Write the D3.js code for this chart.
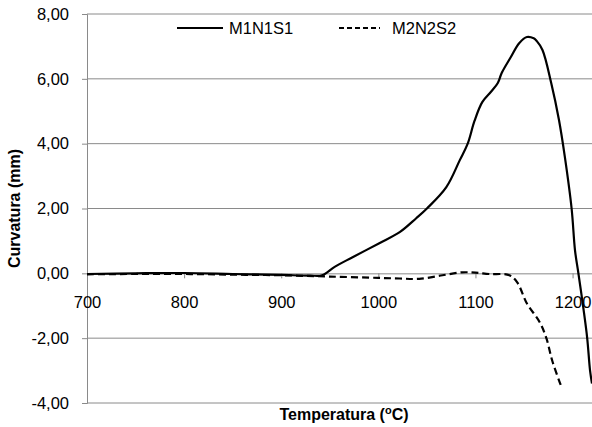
<!DOCTYPE html>
<html>
<head>
<meta charset="utf-8">
<script src="https://cdn.jsdelivr.net/npm/d3@7"></script>
<style>
  body { margin: 0; background: #fff; }
  svg { font-family: "Liberation Sans", Arial, sans-serif; }
</style>
</head>
<body>
<svg width="592" height="427"></svg>
<script>
// series names
const seriesNames = ['M1N1S1', 'M2N2S2'];

// M1N1S1 (solid)
const tempA = [700, 750, 800, 850, 900, 930, 942, 955, 973, 1001, 1022, 1039, 1050, 1070, 1084, 1092, 1099, 1107, 1116, 1123, 1127, 1136, 1145, 1153, 1160, 1163, 1169, 1178, 1186, 1192, 1199, 1202.5, 1206, 1211, 1215, 1218, 1220];
const curvA = [-0.02, 0.0, 0.01, -0.02, -0.05, -0.07, -0.06, 0.2, 0.49, 0.93, 1.27, 1.70, 2.0, 2.66, 3.5, 4.0, 4.7, 5.28, 5.6, 5.87, 6.18, 6.65, 7.1, 7.29, 7.25, 7.17, 6.89, 5.87, 4.73, 3.6, 2.0, 0.71, 0.0, -1.05, -1.98, -3.0, -3.4];

// M2N2S2 (dashed)
const tempB = [700, 750, 800, 850, 900, 950, 1000, 1022, 1042, 1066, 1086, 1100, 1114, 1135, 1143, 1153, 1166, 1173, 1179, 1186, 1188];
const curvB = [-0.03, -0.02, -0.02, -0.04, -0.06, -0.1, -0.14, -0.16, -0.17, -0.06, 0.03, 0.02, -0.02, -0.06, -0.28, -0.93, -1.5, -2.0, -2.69, -3.3, -3.46];

const xTicks = [700, 800, 900, 1000, 1100, 1200];
const yTicks = [-4, -2, 0, 2, 4, 6, 8];

const margin = { top: 14, right: 0, bottom: 24, left: 87 };
const width = 592 - margin.left - margin.right,
  height = 427 - margin.top - margin.bottom;

const fontSize = 16.5;

const svg = d3.select('svg');
const g = svg.append('g')
  .attr('transform', 'translate(' + margin.left + ',' + margin.top + ')');

const x = d3.scaleLinear().domain([700, 1220]).range([0, width]);
const y = d3.scaleLinear().domain([-4, 8]).range([height, 0]);

const gray = '#8a8a8a';

// gridlines
g.append('g')
  .selectAll('line')
  .data(yTicks.filter(d => d !== 0))
  .enter().append('line')
  .attr('x1', 0).attr('x2', width)
  .attr('y1', d => y(d)).attr('y2', d => y(d))
  .attr('stroke', gray).attr('stroke-width', 1);

// y axis
const yAxis = g.append('g')
  .call(d3.axisLeft(y).tickValues(yTicks).tickSize(5).tickPadding(13)
    .tickFormat(d => d3.format('.2f')(d).replace('.', ',').replace('\u2212', '-')));
yAxis.select('.domain').attr('stroke', gray);
yAxis.selectAll('.tick line').attr('stroke', gray);
yAxis.selectAll('text').attr('font-size', fontSize).attr('fill', '#000')
  .attr('font-family', '"Liberation Sans", Arial, sans-serif');

// x axis at y = 0
const xAxis = g.append('g')
  .attr('transform', 'translate(0,' + y(0) + ')')
  .call(d3.axisBottom(x).tickValues(xTicks).tickSize(5).tickPadding(18)
    .tickFormat(d3.format('d')));
xAxis.select('.domain').attr('stroke', gray).attr('d', 'M0.5,0.5H' + width);
xAxis.selectAll('.tick line').attr('stroke', gray);
xAxis.selectAll('text').attr('font-size', fontSize).attr('fill', '#000')
  .attr('font-family', '"Liberation Sans", Arial, sans-serif');

// lines
const line = d3.line()
  .x(d => x(d[0]))
  .y(d => y(d[1]))
  .curve(d3.curveCatmullRom.alpha(0.5));

g.append('path')
  .datum(tempA.map((t, i) => [t, curvA[i]]))
  .attr('fill', 'none')
  .attr('stroke', '#000')
  .attr('stroke-width', 2.2)
  .attr('stroke-linejoin', 'round')
  .attr('d', line);

g.append('path')
  .datum(tempB.map((t, i) => [t, curvB[i]]))
  .attr('fill', 'none')
  .attr('stroke', '#000')
  .attr('stroke-width', 2.2)
  .attr('stroke-dasharray', '7,4')
  .attr('d', line);

// legend
const legend = svg.append('g').attr('font-size', fontSize);
legend.append('line')
  .attr('x1', 177).attr('x2', 223).attr('y1', 28).attr('y2', 28)
  .attr('stroke', '#000').attr('stroke-width', 2.2);
legend.append('text').attr('x', 229).attr('y', 34).text(seriesNames[0]);
legend.append('line')
  .attr('x1', 339).attr('x2', 380).attr('y1', 28).attr('y2', 28)
  .attr('stroke', '#000').attr('stroke-width', 2.2)
  .attr('stroke-dasharray', '5,3');
legend.append('text').attr('x', 392).attr('y', 34).text(seriesNames[1]);

// axis titles
const xt = svg.append('text')
  .attr('x', 344)
  .attr('y', 420)
  .attr('text-anchor', 'middle')
  .attr('font-size', 16)
  .attr('font-weight', 'bold');
xt.append('tspan').text('Temperatura (');
xt.append('tspan').attr('font-size', 11).attr('dy', -6).text('o');
xt.append('tspan').attr('dy', 6).text('C)');

svg.append('text')
  .attr('transform', 'translate(20,' + (margin.top + height / 2) + ') rotate(-90)')
  .attr('text-anchor', 'middle')
  .attr('font-size', 16)
  .attr('font-weight', 'bold')
  .text('Curvatura (mm)');
</script>
</body>
</html>
